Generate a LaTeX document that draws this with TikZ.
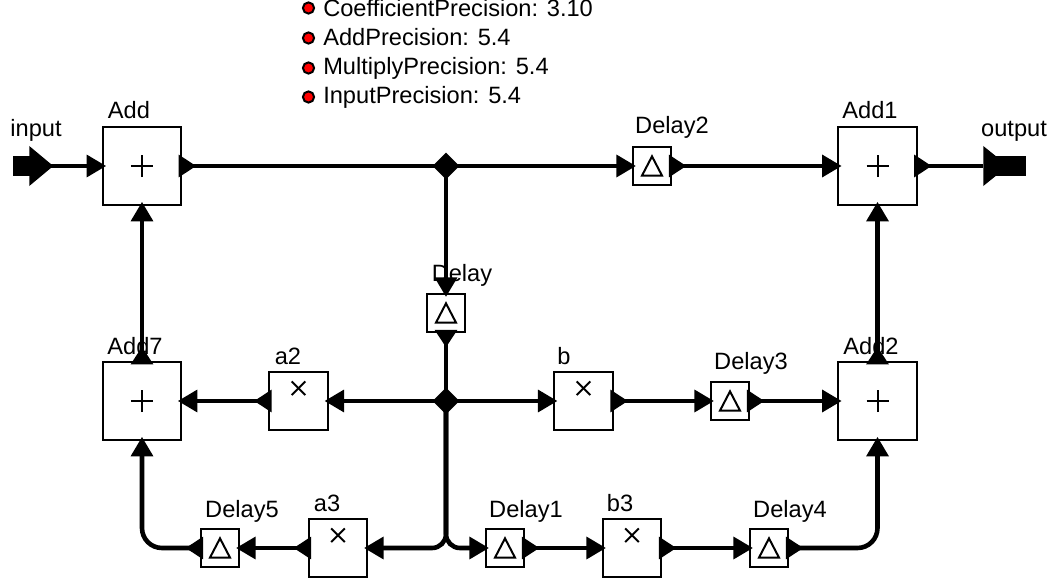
\documentclass[tikz,border=0pt]{standalone}
\usepackage{fontspec}
\setmainfont{Liberation Sans}
\usetikzlibrary{shapes.geometric, arrows.meta}

\begin{document}
\begin{tikzpicture}[
    x=0.025cm, y=-0.025cm,
    every node/.style={font=\fontsize{16.8}{19}\selectfont},
    pin/.tip={Triangle[length=4.9mm, width=5.4mm]},
    pout/.tip={Triangle[reversed, length=4.4mm, width=5.4mm]},
    block/.style={rectangle, draw, line width=0.05cm, fill=white, inner sep=0pt},
    adder/.style={block, minimum size=1.96cm, path picture={
        \draw[line width=0.05cm] ([xshift=-0.275cm]path picture bounding box.center) -- ([xshift=0.275cm]path picture bounding box.center);
        \draw[line width=0.05cm] ([yshift=-0.275cm]path picture bounding box.center) -- ([yshift=0.275cm]path picture bounding box.center);}},
    gain/.style={block, minimum size=1.47cm, path picture={
        \draw[line width=0.05cm] ([xshift=-0.17cm,yshift=0.15cm]path picture bounding box.center) -- ([xshift=0.17cm,yshift=0.49cm]path picture bounding box.center);
        \draw[line width=0.05cm] ([xshift=-0.17cm,yshift=0.49cm]path picture bounding box.center) -- ([xshift=0.17cm,yshift=0.15cm]path picture bounding box.center);}},
    delayblock/.style={block, minimum size=0.97cm, path picture={
        \draw[line width=0.05cm, line join=miter] ([xshift=-0.25cm,yshift=-0.24cm]path picture bounding box.center) -- ([xshift=0.25cm,yshift=-0.24cm]path picture bounding box.center) -- ([yshift=0.24cm]path picture bounding box.center) -- cycle;}},
    junction/.style={diamond, fill=black, inner sep=0pt, minimum size=0.68cm},
    portbar/.style={rectangle, fill=black, inner sep=0pt, minimum height=0.5cm},
    porthead/.style={isosceles triangle, isosceles triangle stretches, fill=black, inner sep=0pt,
                     minimum width=1cm, anchor=lower side},
    dot/.style={circle, draw, line width=0.05cm, fill=red, inner sep=0pt, minimum size=0.28cm},
    txt/.style={anchor=base, inner sep=0pt},
    wire/.style={line width=0.115cm},
    wire-in/.style={wire, -{pin}, shorten >=-0.11cm},
    wire-out/.style={wire, {pout}-, shorten <=-0.09cm},
    wire-both/.style={wire, {pout}-{pin}, shorten <=-0.09cm, shorten >=-0.11cm}
]
\useasboundingbox (0,0) rectangle (1052,583);

% --- precision list (top) ---
\foreach \i/\y/\b/\name in {%
  1/8/17/CoefficientPrecision: 3.10,
  2/38/46/AddPrecision: 5.4,
  3/68/74.5/MultiplyPrecision: 5.4,
  4/97/104/InputPrecision: 5.4} {
    \node[dot] (dot\i) at (308.5, \y) {};
    \node[anchor=base west, inner sep=0pt] (prec\i) at (323, \b) {\name};
}

% --- blocks ---
\node[adder] (add)  at (142, 166) {};
\node[adder] (add1) at (877.5, 166) {};
\node[adder] (add7) at (142, 401) {};
\node[adder] (add2) at (877.5, 401) {};

\node[gain] (a2) at (298.5, 401) {};
\node[gain] (b)  at (583.5, 401) {};
\node[gain] (a3) at (338, 548) {};
\node[gain] (b3) at (632, 548) {};

\node[delayblock] (delay)  at (446, 313) {};
\node[delayblock] (delay1) at (505, 548) {};
\node[delayblock] (delay2) at (652, 166) {};
\node[delayblock] (delay3) at (730, 401) {};
\node[delayblock] (delay4) at (769, 548) {};
\node[delayblock] (delay5) at (220, 548) {};

\node[junction] (j1) at (446, 166) {};
\node[junction] (j2) at (446, 401) {};

% --- ports ---
\node[portbar, minimum width=0.5cm] (inbar) at (23, 166) {};
\node[porthead, minimum height=0.6cm] (inhead) at (29, 166) {};
\node[portbar, minimum width=1cm] (outbar) at (1006, 166) {};
\node[porthead, minimum height=0.62cm] (outhead) at (983, 166) {};

% --- connectors ---
\draw[wire-in] (inhead.center) -- (add.west);
\draw[wire-out] (add.east) -- (j1.center);
\draw[wire-in] (j1.center) -- (delay2.west);
\draw[wire-both] (delay2.east) -- (add1.west);
\draw[wire-out] (add1.east) -- (outhead.lower side);
\draw[wire-in] (j1.center) -- (delay.north);
\draw[wire-out] (delay.south) -- (j2.center);
\draw[wire-both] (add7.north) -- (add.south);
\draw[wire-both] (add2.north) -- (add1.south);

\draw[wire-in] (j2.center) -- (a2.east);
\draw[wire-both] (a2.west) -- (add7.east);
\draw[wire-in] (j2.center) -- (b.west);
\draw[wire-both] (b.east) -- (delay3.west);
\draw[wire-both] (delay3.east) -- (add2.west);

\draw[wire-in, rounded corners=0.35cm] (j2.center) |- (a3.east);
\draw[wire-both] (a3.west) -- (delay5.east);
\draw[wire-both, rounded corners=0.5cm] (delay5.west) -| (add7.south);
\draw[wire-in, rounded corners=0.35cm] (j2.center) |- (delay1.west);
\draw[wire-both] (delay1.east) -- (b3.west);
\draw[wire-both] (b3.east) -- (delay4.west);
\draw[wire-both, rounded corners=0.5cm] (delay4.east) -| (add2.south);

% --- block names ---
\foreach \n/\x/\y/\name in {%
  linput/36/136.5/input, loutput/1014/136.5/output,
  ladd/129/119/Add, ladd1/870/119/Add1, ladd7/135/355/Add7, ladd2/871/355/Add2,
  la2/288/364/a2, lb/564/364/b, la3/327/511/a3, lb3/620/511/b3,
  ldelay/462/281.5/Delay, ldelay1/526/517/Delay1, ldelay2/672/134/Delay2,
  ldelay3/751/369/Delay3, ldelay4/790/517/Delay4, ldelay5/242/517/Delay5} {
    \node[txt] (\n) at (\x, \y) {\name};
}

\end{tikzpicture}
\end{document}
